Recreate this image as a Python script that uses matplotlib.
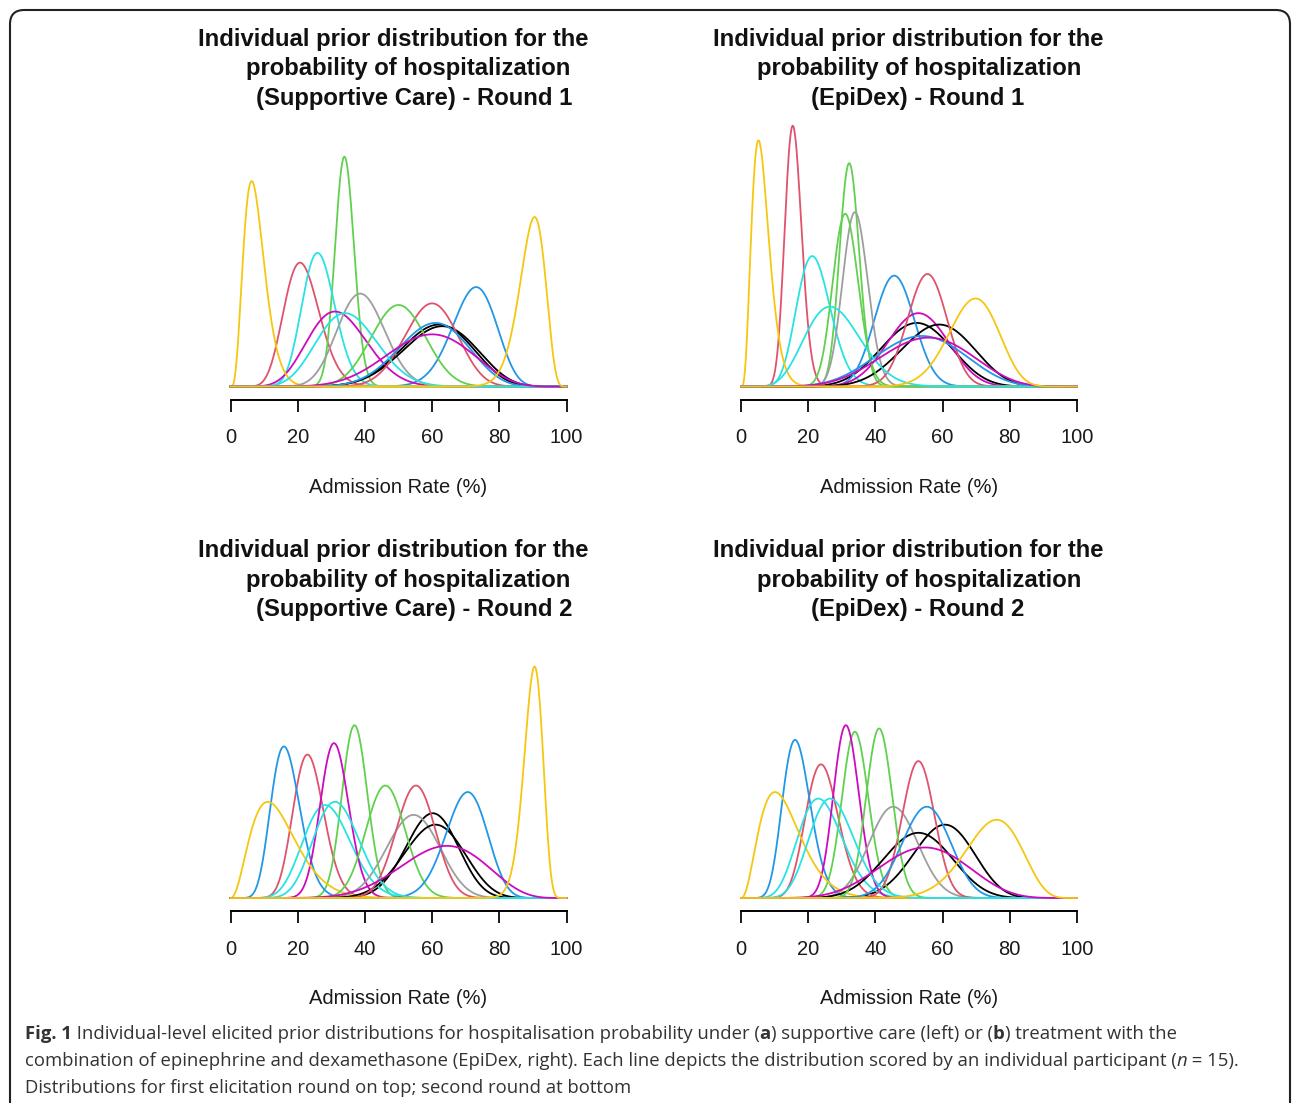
import math
import numpy as np
import matplotlib
matplotlib.use("Agg")
import matplotlib.pyplot as plt
from matplotlib.patches import FancyBboxPatch

# R 4.x default palette, recycled over the 15 participants
palette = ["#000000", "#DF536B", "#61D04F", "#2297E6", "#28E2E5",
           "#CD0BBC", "#F5C710", "#9E9E9E"]
participant_colors = [palette[i % 8] for i in range(15)]

# mode (%) and peak density of each participant's prior, colour order:
# black, red, green, blue, cyan, magenta, yellow, gray, black, red, green, blue, cyan, magenta, yellow
sc_r1_mode = [62.0, 20.7, 33.9, 73.1, 25.9, 31.1, 6.3, 38.6, 63.0, 60.0, 50.0, 61.0, 34.1, 60.0, 90.5]
sc_r1_peak = [3.8, 7.6, 14.1, 6.1, 8.2, 4.6, 12.6, 5.7, 3.7, 5.1, 5.0, 3.9, 4.5, 3.2, 10.4]

ed_r1_mode = [52.3, 15.4, 32.2, 45.6, 21.2, 52.8, 5.2, 33.9, 59.0, 55.5, 31.0, 53.8, 26.5, 55.8, 69.8]
ed_r1_peak = [3.9, 16.0, 13.7, 6.8, 8.0, 4.5, 15.1, 10.7, 3.8, 6.9, 10.6, 3.1, 4.9, 3.0, 5.4]

sc_r2_mode = [60.2, 22.9, 36.9, 15.9, 28.2, 30.8, 11.1, 54.5, 61.0, 55.2, 46.1, 70.6, 31.1, 64.4, 90.5]
sc_r2_peak = [5.2, 8.8, 10.6, 9.3, 5.7, 9.5, 5.9, 5.1, 4.5, 6.9, 6.9, 6.5, 5.9, 3.2, 14.2]

ed_r2_mode = [60.7, 23.8, 33.9, 16.1, 23.0, 31.2, 10.1, 45.3, 52.8, 52.8, 41.1, 55.3, 26.5, 54.8, 76.1]
ed_r2_peak = [4.5, 8.2, 10.2, 9.7, 6.1, 10.6, 6.5, 5.6, 4.0, 8.4, 10.4, 5.6, 6.1, 3.1, 4.8]

xticks = [0, 20, 40, 60, 80, 100]
xlabel = "Admission Rate (%)"

panels = [
    (["Individual prior distribution for the", "probability of hospitalization",
      "(Supportive Care) - Round 1"], sc_r1_mode, sc_r1_peak),
    (["Individual prior distribution for the", "probability of hospitalization",
      "(EpiDex) - Round 1"], ed_r1_mode, ed_r1_peak),
    (["Individual prior distribution for the", "probability of hospitalization",
      "(Supportive Care) - Round 2"], sc_r2_mode, sc_r2_peak),
    (["Individual prior distribution for the", "probability of hospitalization",
      "(EpiDex) - Round 2"], ed_r2_mode, ed_r2_peak),
]


def beta_logpdf(x, a, b):
    lb = math.lgamma(a) + math.lgamma(b) - math.lgamma(a + b)
    return (a - 1) * np.log(x) + (b - 1) * np.log1p(-x) - lb


def beta_from_mode_peak(mode, peak):
    # find concentration k so the beta density with this mode reaches this peak
    m = mode / 100.0
    lo, hi = math.log(2.05), math.log(1e5)
    for _ in range(80):
        mid = 0.5 * (lo + hi)
        k = math.exp(mid)
        a, b = m * (k - 2) + 1, (1 - m) * (k - 2) + 1
        p = math.exp(beta_logpdf(np.array([m]), a, b)[0])
        if p < peak:
            lo = mid
        else:
            hi = mid
    k = math.exp(0.5 * (lo + hi))
    return m * (k - 2) + 1, (1 - m) * (k - 2) + 1


W, H = 1293, 1103
fig = plt.figure(figsize=(W / 100, H / 100), dpi=100)
plt.rcParams['font.family'] = ['Liberation Sans', 'DejaVu Sans']

PX = 16.3            # pixels per unit density
ax_left = [230.5, 741.0]
ax_w = 336.0
ax_base = [386.5, 898.0]
ax_h = 266.0
title_cx = [[393.5, 408.5, 414.0], [908.3, 919.0, 918.0]]
title_base = [46.0, 75.5, 105.0]

xs = np.linspace(0.0005, 0.9995, 800)

for i, (title, modes, peaks) in enumerate(panels):
    col, row = i % 2, i // 2
    left = ax_left[col]
    base = ax_base[row]
    ax = fig.add_axes([left / W, 1 - base / H, ax_w / W, ax_h / H])
    for c, m, p in zip(participant_colors, modes, peaks):
        a, b = beta_from_mode_peak(m, p)
        dens = np.exp(beta_logpdf(xs, a, b))
        xx = np.concatenate([[0], xs * 100, [100]])
        yy = np.concatenate([[0], dens, [0]])
        ax.plot(xx, yy, color=c, lw=1.3, clip_on=False)
    ax.set_xlim(0, 100)
    ax.set_ylim(0, ax_h / PX)
    for s in ["left", "right", "top"]:
        ax.spines[s].set_visible(False)
    ax.spines["bottom"].set_position(("outward", 9.4))
    ax.spines["bottom"].set_bounds(0, 100)
    ax.spines["bottom"].set_linewidth(1.4)
    ax.set_yticks([])
    ax.set_xticks(xticks)
    ax.tick_params(axis="x", direction="out", length=8.6, width=1.4, pad=12,
                   labelsize=14.5, colors="#1a1a1a")
    ax.set_xlabel(xlabel, fontsize=14.5, labelpad=22, color="#1a1a1a")
    ax.patch.set_visible(False)

    yoff = row * 511
    for j, line in enumerate(title):
        fig.text(title_cx[col][j] / W, 1 - (title_base[j] + yoff) / H, line,
                 ha="center", va="baseline", fontsize=17.2, fontweight="bold",
                 color="#111111")

# rounded frame round the figure
frame = FancyBboxPatch((10 / W, -30 / H), 1280 / W, (H - 10 + 30) / H,
                       boxstyle="round,pad=0,rounding_size=0.011",
                       transform=fig.transFigure, fill=False,
                       edgecolor="#222222", lw=1.5, mutation_aspect=W / H)
fig.add_artist(frame)

# caption with mixed bold / italic pieces
cap_color = "#333333"
cap_size = 13.3
caption = [
    [("Fig. 1", "bold", "normal"),
     (" Individual-level elicited prior distributions for hospitalisation probability under (", "normal", "normal"),
     ("a", "bold", "normal"), (") supportive care (left) or (", "normal", "normal"),
     ("b", "bold", "normal"), (") treatment with the", "normal", "normal")],
    [("combination of epinephrine and dexamethasone (EpiDex, right). Each line depicts the distribution scored by an individual participant (", "normal", "normal"),
     ("n", "normal", "italic"), (" = 15).", "normal", "normal")],
    [("Distributions for first elicitation round on top; second round at bottom", "normal", "normal")],
]
cap_base = [1039, 1066, 1093]

renderer = fig.canvas.get_renderer()


def advance(txt, weight, style):
    t1 = fig.text(0, 0, txt + "|", fontsize=cap_size, fontweight=weight,
                  fontstyle=style, family="Open Sans")
    t2 = fig.text(0, 0, "|", fontsize=cap_size, fontweight=weight,
                  fontstyle=style, family="Open Sans")
    w = t1.get_window_extent(renderer).width - t2.get_window_extent(renderer).width
    t1.remove()
    t2.remove()
    return w


for line, yb in zip(caption, cap_base):
    x = 25.0
    for txt, weight, style in line:
        fig.text(x / W, 1 - yb / H, txt, fontsize=cap_size, fontweight=weight,
                 fontstyle=style, family="Open Sans", color=cap_color,
                 va="baseline", ha="left")
        x += advance(txt, weight, style)

fig.savefig("out.png", dpi=100)
